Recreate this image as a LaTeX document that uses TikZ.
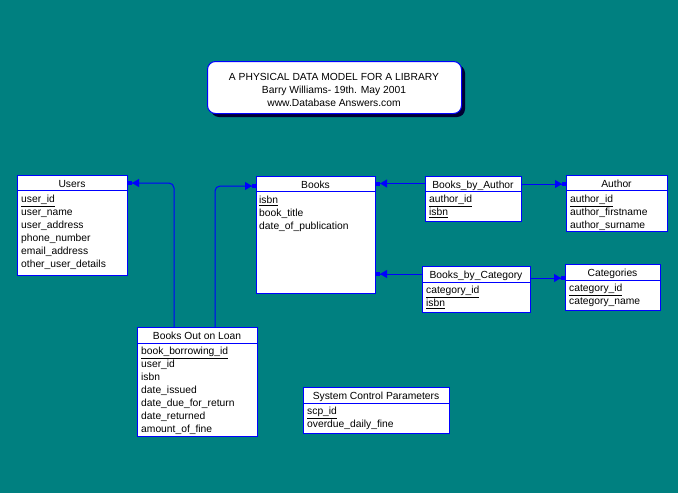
\documentclass[tikz,border=0pt]{standalone}
\usepackage{fontspec}
\setmainfont{Liberation Sans}
\usetikzlibrary{arrows.meta}
\definecolor{teal0}{HTML}{008080}
\definecolor{shadowc}{HTML}{000033}
\tikzset{
  tbox/.style={draw=blue, fill=white, line width=1pt, inner sep=0pt, anchor=north west},
  hline/.style={draw=blue, line width=1pt},
  hdr/.style={inner sep=0pt, anchor=base, yshift=-4pt, font=\fontsize{10.3}{12}\selectfont},
  fld/.style={inner sep=0pt, anchor=base west, yshift=-3.5pt, font=\fontsize{10.3}{12}\selectfont},
  rel/.style={draw=blue, line width=1pt, -{Triangle[length=7pt,width=8pt]Rectangle[length=4pt,width=4pt]}},
}
\newcommand{\ul}[1]{\underline{#1}}
\begin{document}
\begin{tikzpicture}[x=1pt,y=-1pt]
\fill[teal0] (0,0) rectangle (678,493);
\useasboundingbox (0,0) rectangle (678,493);

% title
\fill[shadowc, rounded corners=8pt] (211,65) rectangle (465,117);
\node[draw=blue, fill=white, line width=1pt, rounded corners=8pt, inner sep=0pt, anchor=north west,
      minimum width=254pt, minimum height=52pt] (title) at (207,61) {};
\node[hdr] (t1) at (334,76) {A PHYSICAL DATA MODEL FOR A LIBRARY};
\node[hdr] (t2) at (334,89) {Barry Williams- 19th. May 2001};
\node[hdr] (t3) at (334,102) {www.Database Answers.com};

% Users
\node[tbox, minimum width=110pt, minimum height=100pt] (users) at (17,175) {};
\draw[hline] (17,190) -- (127,190);
\node[hdr] (usersh) at (72,183) {Users};
\node[fld] (u1) at (21,199) {\ul{user\_id}};
\node[fld] (u2) at (21,212) {user\_name};
\node[fld] (u3) at (21,225) {user\_address};
\node[fld] (u4) at (21,238) {phone\_number};
\node[fld] (u5) at (21,251) {email\_address};
\node[fld] (u6) at (21,264) {other\_user\_details};

% Books
\node[tbox, minimum width=119pt, minimum height=117pt] (books) at (256,176) {};
\draw[hline] (256,191) -- (375,191);
\node[hdr] (booksh) at (315.5,184) {Books};
\node[fld] (b1) at (259,200) {\ul{isbn}};
\node[fld] (b2) at (259,213) {book\_title};
\node[fld] (b3) at (259,226) {date\_of\_publication};

% Books_by_Author
\node[tbox, minimum width=96pt, minimum height=45pt] (bba) at (425,176) {};
\draw[hline] (425,191) -- (521,191);
\node[hdr] (bbah) at (473,184) {Books\_by\_Author};
\node[fld] (bba1) at (429,199) {\ul{author\_id}};
\node[fld] (bba2) at (429,212) {\ul{isbn}};

% Author
\node[tbox, minimum width=101pt, minimum height=56pt] (author) at (566,175) {};
\draw[hline] (566,190) -- (667,190);
\node[hdr] (authorh) at (616.5,183) {Author};
\node[fld] (a1) at (570,199) {\ul{author\_id}};
\node[fld] (a2) at (570,212) {author\_firstname};
\node[fld] (a3) at (570,225) {author\_surname};

% Books_by_Category
\node[tbox, minimum width=108pt, minimum height=46pt] (bbc) at (422,266) {};
\draw[hline] (422,282) -- (530,282);
\node[hdr] (bbch) at (476,274) {Books\_by\_Category};
\node[fld] (bbc1) at (426,290) {\ul{category\_id}};
\node[fld] (bbc2) at (426,303) {\ul{isbn}};

% Categories
\node[tbox, minimum width=95pt, minimum height=46pt] (cat) at (565,264) {};
\draw[hline] (565,280) -- (660,280);
\node[hdr] (cath) at (612.5,272) {Categories};
\node[fld] (c1) at (569,288) {\ul{category\_id}};
\node[fld] (c2) at (569,301) {category\_name};

% Books Out on Loan
\node[tbox, minimum width=120pt, minimum height=109pt] (loan) at (137,327) {};
\draw[hline] (137,343) -- (257,343);
\node[hdr] (loanh) at (197,335) {Books Out on Loan};
\node[fld] (l1) at (141,351) {\ul{book\_borrowing\_id}};
\node[fld] (l2) at (141,364) {user\_id};
\node[fld] (l3) at (141,377) {isbn};
\node[fld] (l4) at (141,390) {date\_issued};
\node[fld] (l5) at (141,403) {date\_due\_for\_return};
\node[fld] (l6) at (141,416) {date\_returned};
\node[fld] (l7) at (141,429) {amount\_of\_fine};

% System Control Parameters
\node[tbox, minimum width=146pt, minimum height=46pt] (scp) at (303,387) {};
\draw[hline] (303,403) -- (449,403);
\node[hdr] (scph) at (376,395) {System Control Parameters};
\node[fld] (s1) at (307,411) {\ul{scp\_id}};
\node[fld] (s2) at (307,424) {overdue\_daily\_fine};

% connectors
\draw[rel, rounded corners=5pt] (loan.north -| 174,0) -- (174,183) -- (users.east |- 0,183);
\draw[rel, rounded corners=5pt] (loan.north -| 215,0) -- (215,186) -- (books.west |- 0,186);
\draw[rel] (bba.west |- 0,183.5) -- (books.east |- 0,183.5);
\draw[rel] (bba.east |- 0,184) -- (author.west |- 0,184);
\draw[rel] (bbc.west |- 0,274) -- (books.east |- 0,274);
\draw[rel] (bbc.east |- 0,278) -- (cat.west |- 0,278);
\end{tikzpicture}
\end{document}
